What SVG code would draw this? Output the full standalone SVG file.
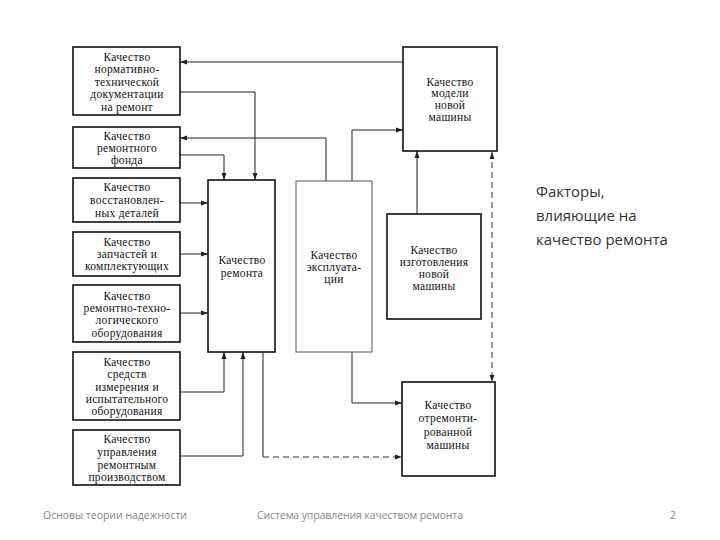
<svg xmlns="http://www.w3.org/2000/svg" width="720" height="540" viewBox="0 0 720 540">
<style>
.box{fill:#fff;stroke:#111;stroke-width:1.6}
.thin{fill:#fff;stroke:#555;stroke-width:1}
.t{font-family:"Liberation Serif","DejaVu Serif",serif;font-size:11.5px;fill:#111;text-anchor:middle;letter-spacing:0.3px}
.c{fill:none;stroke:#222;stroke-width:1}
.d{fill:none;stroke:#333;stroke-width:1;stroke-dasharray:6 4}
.side{font-family:"Open Sans","Liberation Sans",sans-serif;font-size:15px;fill:#333}
.foot{font-family:"Open Sans","Liberation Sans",sans-serif;font-size:10.5px;fill:#888}
</style>
<defs>
<marker id="a" viewBox="0 0 10 10" refX="10" refY="5" markerWidth="7" markerHeight="7" orient="auto-start-reverse" markerUnits="userSpaceOnUse">
<path d="M0,1.5 L10,5 L0,8.5 z" fill="#222"/>
</marker>
</defs>
<rect width="720" height="540" fill="#fff"/>

<g id="connectors">
<path class="c" d="M403,62 H180" marker-end="url(#a)"/>
<path class="c" d="M180,92 H255 V180" marker-end="url(#a)"/>
<path class="c" d="M326,181 V138 H180" marker-end="url(#a)"/>
<path class="c" d="M180,155 H224 V180" marker-end="url(#a)"/>
<path class="c" d="M352,181 V130 H403" marker-end="url(#a)"/>
<path class="c" d="M417,214 V151" marker-end="url(#a)"/>
<path class="d" d="M492,152 V382" stroke-dasharray="3 2" marker-start="url(#a)" marker-end="url(#a)"/>
<path class="c" d="M180,203 H208" marker-end="url(#a)"/>
<path class="c" d="M180,254 H208" marker-end="url(#a)"/>
<path class="c" d="M180,313 H208" marker-end="url(#a)"/>
<path class="c" d="M180,392 H224 V352" marker-end="url(#a)"/>
<path class="c" d="M180,456 H243 V352" marker-end="url(#a)"/>
<path class="c" d="M263,352 V457"/>
<path class="d" d="M263,457 H402" marker-end="url(#a)"/>
<path class="c" d="M352,352 V403 H402" marker-end="url(#a)"/>
</g>

<g id="n1"><rect class="box" x="73" y="47" width="107" height="68"/>
<text class="t" x="127" y="61">Качество</text><text class="t" x="127" y="73">нормативно-</text><text class="t" x="127" y="86">технической</text><text class="t" x="127" y="98">документации</text><text class="t" x="127" y="111">на ремонт</text></g>

<g id="n2"><rect class="box" x="73" y="127" width="107" height="41"/>
<text class="t" x="127" y="140">Качество</text><text class="t" x="127" y="152">ремонтного</text><text class="t" x="127" y="164">фонда</text></g>

<g id="n3"><rect class="box" x="73" y="178" width="107" height="44"/>
<text class="t" x="127" y="191">Качество</text><text class="t" x="127" y="204">восстановлен-</text><text class="t" x="127" y="217">ных деталей</text></g>

<g id="n4"><rect class="box" x="73" y="232" width="107" height="44"/>
<text class="t" x="127" y="246">Качество</text><text class="t" x="127" y="258">запчастей и</text><text class="t" x="127" y="270">комплектующих</text></g>

<g id="n5"><rect class="box" x="73" y="285" width="107" height="57"/>
<text class="t" x="127" y="300">Качество</text><text class="t" x="127" y="312">ремонтно-техно-</text><text class="t" x="127" y="324">логического</text><text class="t" x="127" y="337">оборудования</text></g>

<g id="n6"><rect class="box" x="73" y="352" width="107" height="68"/>
<text class="t" x="127" y="366">Качество</text><text class="t" x="127" y="378">средств</text><text class="t" x="127" y="391">измерения и</text><text class="t" x="127" y="403">испытательного</text><text class="t" x="127" y="415">оборудования</text></g>

<g id="n7"><rect class="box" x="73" y="430" width="107" height="55"/>
<text class="t" x="127" y="443">Качество</text><text class="t" x="127" y="456">управления</text><text class="t" x="127" y="469">ремонтным</text><text class="t" x="127" y="481">производством</text></g>

<g id="n8"><rect class="box" x="208" y="180" width="67" height="172"/>
<text class="t" x="242" y="264">Качество</text><text class="t" x="242" y="277">ремонта</text></g>

<g id="n9"><rect class="thin" x="296" y="181" width="76" height="171"/>
<text class="t" x="334" y="259">Качество</text><text class="t" x="334" y="271">эксплуата-</text><text class="t" x="334" y="283">ции</text></g>

<g id="n10"><rect class="box" x="387" y="214" width="94" height="105"/>
<text class="t" x="434" y="254">Качество</text><text class="t" x="434" y="266">изготовления</text><text class="t" x="434" y="278">новой</text><text class="t" x="434" y="290">машины</text></g>

<g id="n11"><rect class="box" x="403" y="47" width="94" height="104"/>
<text class="t" x="450" y="86">Качество</text><text class="t" x="450" y="97">модели</text><text class="t" x="450" y="109">новой</text><text class="t" x="450" y="121">машины</text></g>

<g id="n12"><rect class="box" x="402" y="382" width="93" height="94"/>
<text class="t" x="448" y="409">Качество</text><text class="t" x="448" y="422">отремонти-</text><text class="t" x="448" y="436">рованной</text><text class="t" x="448" y="449">машины</text></g>

<g id="caption">
<text class="side" x="536" y="197">Факторы,</text>
<text class="side" x="536" y="221">влияющие на</text>
<text class="side" x="536" y="245">качество ремонта</text>
</g>
<g id="footer">
<text class="foot" x="43" y="519" textLength="144">Основы теории надежности</text>
<text class="foot" x="257" y="519" textLength="206">Система управления качеством ремонта</text>
<text class="foot" x="670" y="519">2</text>
</g>
</svg>
